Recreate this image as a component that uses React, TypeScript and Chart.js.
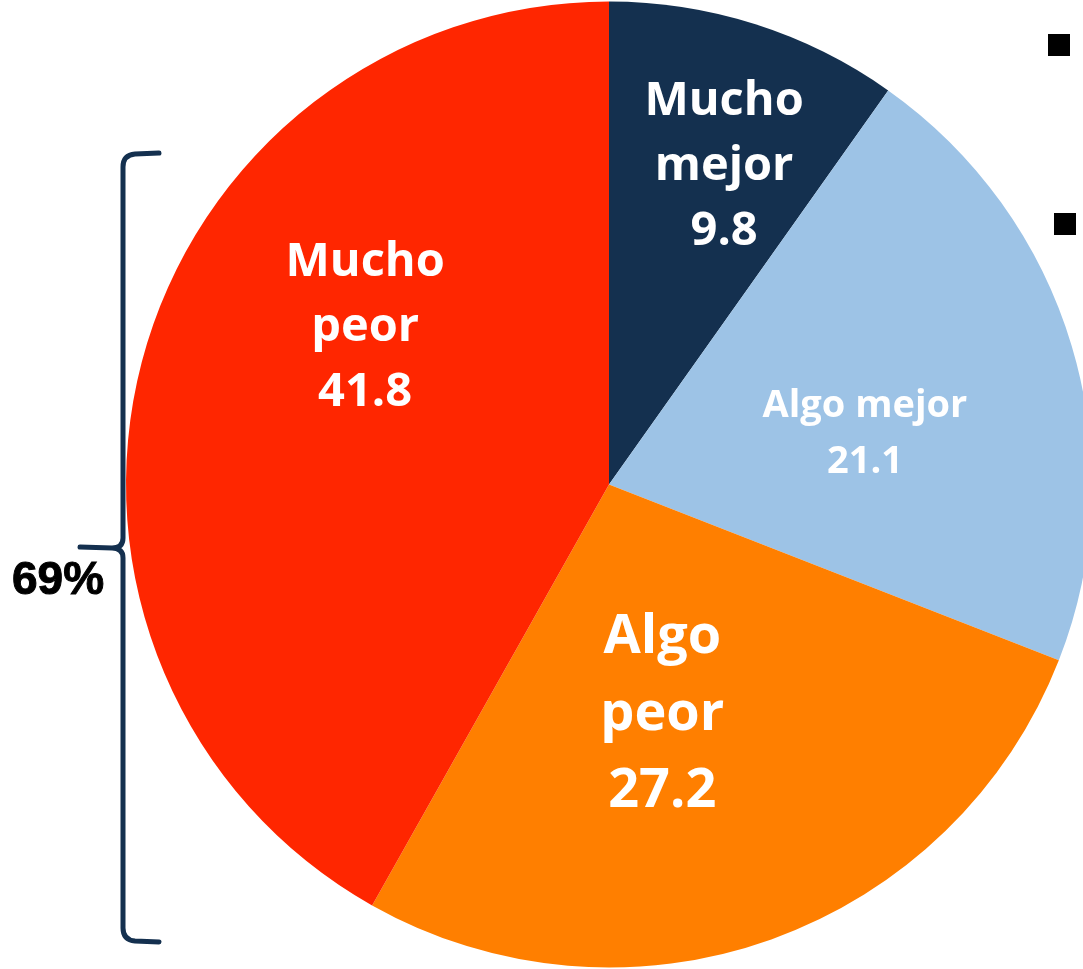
import React, { useEffect, useRef } from "react";
import { Chart, registerables } from "chart.js";

Chart.register(...registerables);

const categories = ["Mucho mejor", "Algo mejor", "Algo peor", "Mucho peor"];
const values = [9.8, 21.1, 27.2, 41.8];
const labelLines = [
  ["Mucho", "mejor", "9.8"],
  ["Algo mejor", "21.1"],
  ["Algo", "peor", "27.2"],
  ["Mucho", "peor", "41.8"],
];
const colors = ["#14304F", "#9DC3E6", "#FF7F00", "#FF2600"];
const bracketText = "69%";

// label styling: [angleDeg from top, fraction of radius, fontSize, lineHeight]
const labelStyle = [
  [19.9, 0.70, 47, 65],
  [78.9, 0.54, 38, 56],
  [167, 0.49, 54, 77],
  [302.7, 0.6, 47, 65],
];

const overlayPlugin = {
  id: "overlay",
  afterDatasetsDraw(chart: any) {
    const ctx = chart.ctx;
    const meta = chart.getDatasetMeta(0);
    const arc = meta.data[0];
    const cx = arc.x;
    const cy = arc.y;
    const r = arc.outerRadius;
    ctx.save();
    ctx.fillStyle = "#FFFFFF";
    ctx.textAlign = "center";
    ctx.textBaseline = "middle";
    labelLines.forEach((lines, i) => {
      const [ang, frac, fs, lh] = labelStyle[i];
      const a = (ang * Math.PI) / 180;
      const x = cx + Math.sin(a) * r * frac;
      const y = cy - Math.cos(a) * r * frac;
      ctx.font = `bold ${fs}px "Open Sans", Lato, sans-serif`;
      const n = lines.length;
      lines.forEach((t, k) => {
        ctx.fillText(t, x, y + (k - (n - 1) / 2) * lh);
      });
    });

    // bracket
    ctx.strokeStyle = "#14304F";
    ctx.lineWidth = 5;
    ctx.lineCap = "round";
    const bx = 123;
    const top = 153;
    const bot = 942;
    const mid = 548;
    ctx.beginPath();
    ctx.moveTo(159, top);
    ctx.lineTo(135, top + 1);
    ctx.quadraticCurveTo(bx, top + 2, bx, top + 14);
    ctx.lineTo(bx, mid - 10);
    ctx.quadraticCurveTo(bx, mid, 112, mid);
    ctx.lineTo(80, mid - 1);
    ctx.moveTo(112, mid);
    ctx.quadraticCurveTo(bx, mid, bx, mid + 10);
    ctx.lineTo(bx, bot - 14);
    ctx.quadraticCurveTo(bx, bot - 2, 135, bot - 1);
    ctx.lineTo(159, bot);
    ctx.stroke();

    ctx.fillStyle = "#000000";
    ctx.strokeStyle = "#000000";
    ctx.lineWidth = 1;
    ctx.font = 'bold 46px "Liberation Sans", Arial, sans-serif';
    ctx.textAlign = "center";
    ctx.fillText(bracketText, 58, 581);
    ctx.strokeText(bracketText, 58, 581);

    // partial legend markers
    ctx.fillRect(1048, 34, 22, 22);
    ctx.fillRect(1054, 213, 22, 22);
    ctx.restore();
  },
};

export default function App() {
  const ref = useRef<HTMLCanvasElement | null>(null);
  useEffect(() => {
    if (!ref.current) return;
    const chart = new Chart(ref.current, {
      type: "pie",
      data: {
        labels: categories,
        datasets: [
          {
            data: values,
            backgroundColor: colors,
            borderWidth: 0,
          },
        ],
      },
      options: {
        animation: false,
        responsive: false,
        maintainAspectRatio: false,
        layout: { padding: { left: 126, right: 0, top: 0, bottom: 0 } },
        plugins: {
          legend: { display: false },
          tooltip: { enabled: false },
        },
      },
      plugins: [overlayPlugin],
    });
    return () => chart.destroy();
  }, []);
  return (
    <div
      style={{
        position: "fixed",
        left: 0,
        top: 0,
        width: 1083,
        height: 969,
        overflow: "hidden",
        background: "#fff",
      }}
    >
      <canvas
        ref={ref}
        width={1092}
        height={969}
        style={{ width: 1092, height: 969, display: "block" }}
      />
    </div>
  );
}
